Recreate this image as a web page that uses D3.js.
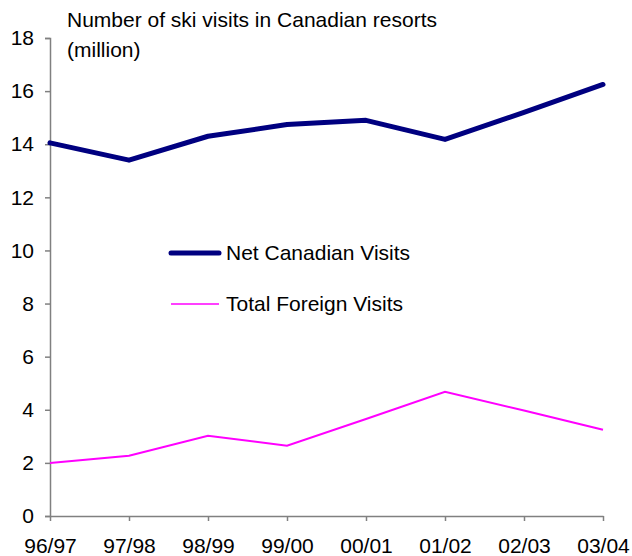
<!DOCTYPE html>
<html>
<head>
<meta charset="utf-8">
<script src="https://cdn.jsdelivr.net/npm/d3@7"></script>
<style>
  body { margin: 0; background: #fff; }
  text { font-family: "Liberation Sans", Arial, sans-serif; fill: #000; }
</style>
</head>
<body>
<svg id="chart" width="632" height="556"></svg>
<script>
var seasons = ["96/97", "97/98", "98/99", "99/00", "00/01", "01/02", "02/03", "03/04"];
var netCanadian = [14.05, 13.4, 14.3, 14.74, 14.9, 14.18, 15.2, 16.25];
var totalForeign = [2.0, 2.27, 3.02, 2.65, 3.65, 4.68, 3.97, 3.25];
var yTicks = [0, 2, 4, 6, 8, 10, 12, 14, 16, 18];

var svg = d3.select("#chart");

var x = d3.scalePoint().domain(seasons).range([50, 603]);
var y = d3.scaleLinear().domain([0, 18]).range([516, 38]);

var AXIS_COLOR = "#808080";
var FONT_SIZE = "21px";

// y axis
var yAxis = svg.append("g")
	.attr("transform", "translate(50,0)")
	.call(d3.axisLeft(y).tickValues(yTicks).tickSize(5).tickPadding(11));
yAxis.select(".domain").attr("stroke", AXIS_COLOR).attr("stroke-width", 1.5);
yAxis.selectAll(".tick line").attr("stroke", AXIS_COLOR).attr("stroke-width", 1.5);
yAxis.selectAll(".tick text")
	.attr("font-size", FONT_SIZE)
	.attr("font-family", "Liberation Sans, Arial, sans-serif");

// x axis
var xAxis = svg.append("g")
	.attr("transform", "translate(0,516)")
	.call(d3.axisBottom(x).tickSize(5).tickPadding(17).tickSizeOuter(0));
xAxis.select(".domain").attr("stroke", AXIS_COLOR).attr("stroke-width", 1.5);
xAxis.selectAll(".tick line").attr("stroke", AXIS_COLOR).attr("stroke-width", 1.5);
xAxis.selectAll(".tick text")
	.attr("font-size", FONT_SIZE)
	.attr("font-family", "Liberation Sans, Arial, sans-serif");

// lines
var line = d3.line()
	.x(function(d, i) { return x(seasons[i]); })
	.y(function(d) { return y(d); });

svg.append("path")
	.datum(totalForeign)
	.attr("fill", "none")
	.attr("stroke", "#ff00ff")
	.attr("stroke-width", 2)
	.attr("d", line);

svg.append("path")
	.datum(netCanadian)
	.attr("fill", "none")
	.attr("stroke", "#000080")
	.attr("stroke-width", 5)
	.attr("stroke-linecap", "round")
	.attr("stroke-linejoin", "round")
	.attr("d", line);

// title
svg.append("text").attr("x", 67).attr("y", 27).attr("font-size", FONT_SIZE)
	.text("Number of ski visits in Canadian resorts");
svg.append("text").attr("x", 67).attr("y", 57).attr("font-size", FONT_SIZE)
	.text("(million)");

// legend
var legend = [
	{ name: "Net Canadian Visits", color: "#000080", width: 5, y: 253 },
	{ name: "Total Foreign Visits", color: "#ff00ff", width: 1.5, y: 304 }
];
legend.forEach(function(l) {
	svg.append("line")
		.attr("x1", 171).attr("x2", 219)
		.attr("y1", l.y).attr("y2", l.y)
		.attr("stroke", l.color)
		.attr("stroke-width", l.width)
		.attr("stroke-linecap", l.width > 2 ? "round" : "butt");
	svg.append("text")
		.attr("x", 226).attr("y", l.y)
		.attr("dy", "0.35em")
		.attr("font-size", FONT_SIZE)
		.text(l.name);
});
</script>
</body>
</html>
